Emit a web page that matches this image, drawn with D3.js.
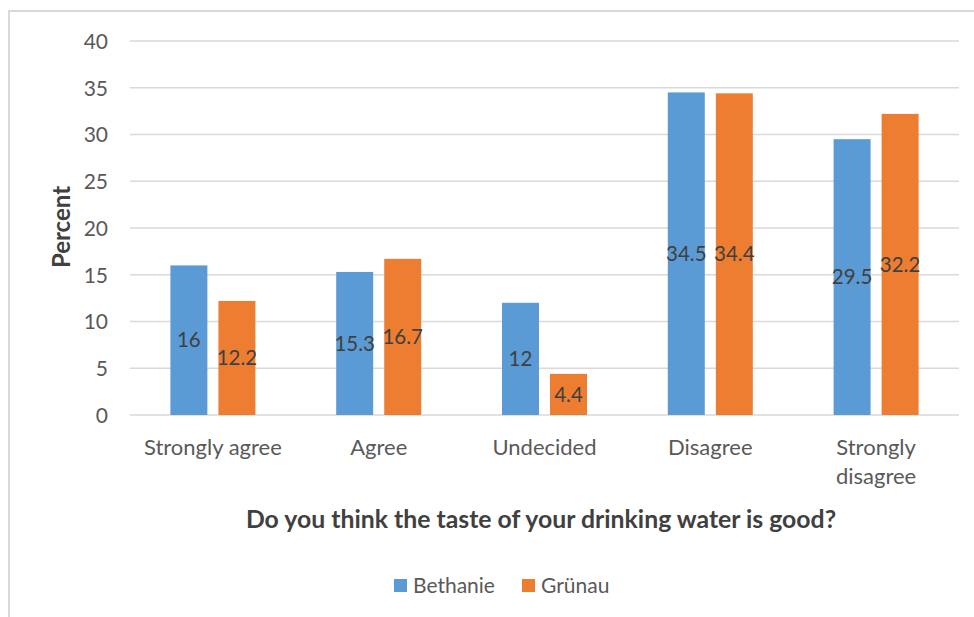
<!DOCTYPE html>
<html><head><meta charset="utf-8">
<script src="https://cdn.jsdelivr.net/npm/d3@7"></script>
<style>body{margin:0;background:#fff}svg{display:block}</style>
</head><body><svg id="c" width="974" height="617"></svg>
<script>
const categories = ["Strongly agree","Agree","Undecided","Disagree","Strongly disagree"];
const seriesNames = ["Bethanie","Grünau"];
const bethanie = [16, 15.3, 12, 34.5, 29.5];
const grunau = [12.2, 16.7, 4.4, 34.4, 32.2];
const yTicks = [0,5,10,15,20,25,30,35,40];
const colors = ["#5b9bd5","#ed7d31"];
const yTitle = "Percent";
const xTitle = "Do you think the taste of your drinking water is good?";

const svg = d3.select("#c");
const font = "Lato, 'Open Sans', sans-serif";
// chart border
svg.append("path").attr("d","M9,617 V11 H974").attr("fill","none").attr("stroke","#d9d9d9").attr("stroke-width",2);

const pLeft=130,pRight=959,pTop=41,pBottom=415;
const x = d3.scaleBand().domain(categories).range([pLeft,pRight]);
const y = d3.scaleLinear().domain([0,40]).range([pBottom,pTop]);
const sub = d3.scaleBand().domain(seriesNames).range([0,85]).paddingInner(0.23);

// gridlines
svg.append("g").selectAll("line").data(yTicks).join("line")
  .attr("x1",pLeft).attr("x2",pRight).attr("y1",d=>y(d)).attr("y2",d=>y(d))
  .attr("stroke","#d9d9d9").attr("stroke-width",1.5);

// y axis labels
const yAxis = d3.axisLeft(y).tickValues(yTicks).tickSize(0).tickPadding(0);
const ga = svg.append("g").attr("transform",`translate(${pLeft-22},0)`).call(yAxis);
ga.select(".domain").remove();
ga.selectAll("text").attr("font-family",font).attr("font-size",21).attr("fill","#595959").attr("dy","0.35em");

const data = [bethanie, grunau];
const groups = svg.append("g");
categories.forEach((c,i)=>{
  const cx = x(c)+x.bandwidth()/2 - 42.5;
  seriesNames.forEach((s,j)=>{
    const v = data[j][i];
    groups.append("rect").attr("x",cx+sub(s)).attr("width",sub.bandwidth())
      .attr("y",y(v)).attr("height",pBottom-y(v)).attr("fill",colors[j]);
  });
  seriesNames.forEach((s,j)=>{
    const v = data[j][i];
    groups.append("text").attr("x",cx+sub(s)+sub.bandwidth()/2).attr("y",(y(v)+pBottom)/2)
      .attr("dy","0.35em").attr("text-anchor","middle").attr("font-family",font)
      .attr("font-size",20.5).attr("fill","#404040").text(v);
  });
});

// x labels
const xl = svg.append("g");
const wrap = {"Strongly disagree":["Strongly","disagree"]};
categories.forEach(c=>{
  const lines = wrap[c] || [c];
  const t = xl.append("text").attr("x",x(c)+x.bandwidth()/2).attr("y",455)
    .attr("text-anchor","middle").attr("font-family",font).attr("font-size",22).attr("fill","#595959");
  lines.forEach((l,k)=>t.append("tspan").attr("x",x(c)+x.bandwidth()/2).attr("dy",k?29:0).text(l));
});

// axis titles
svg.append("text").attr("transform","translate(70,227) rotate(-90)").attr("text-anchor","middle")
  .attr("font-family",font).attr("font-weight","bold").attr("font-size",24).attr("fill","#404040").text(yTitle);
svg.append("text").attr("x",541).attr("y",528).attr("text-anchor","middle")
  .attr("font-family",font).attr("font-weight","bold").attr("font-size",24.8).attr("fill","#404040").text(xTitle);

// legend
const lg = svg.append("g");
const lx = [394, 522];
seriesNames.forEach((s,j)=>{
  lg.append("rect").attr("x",lx[j]).attr("y",579).attr("width",13).attr("height",13).attr("fill",colors[j]);
  lg.append("text").attr("x",lx[j]+19).attr("y",586).attr("dy","0.35em").attr("font-family",font)
    .attr("font-size",21).attr("fill","#595959").text(s);
});
</script></body></html>
